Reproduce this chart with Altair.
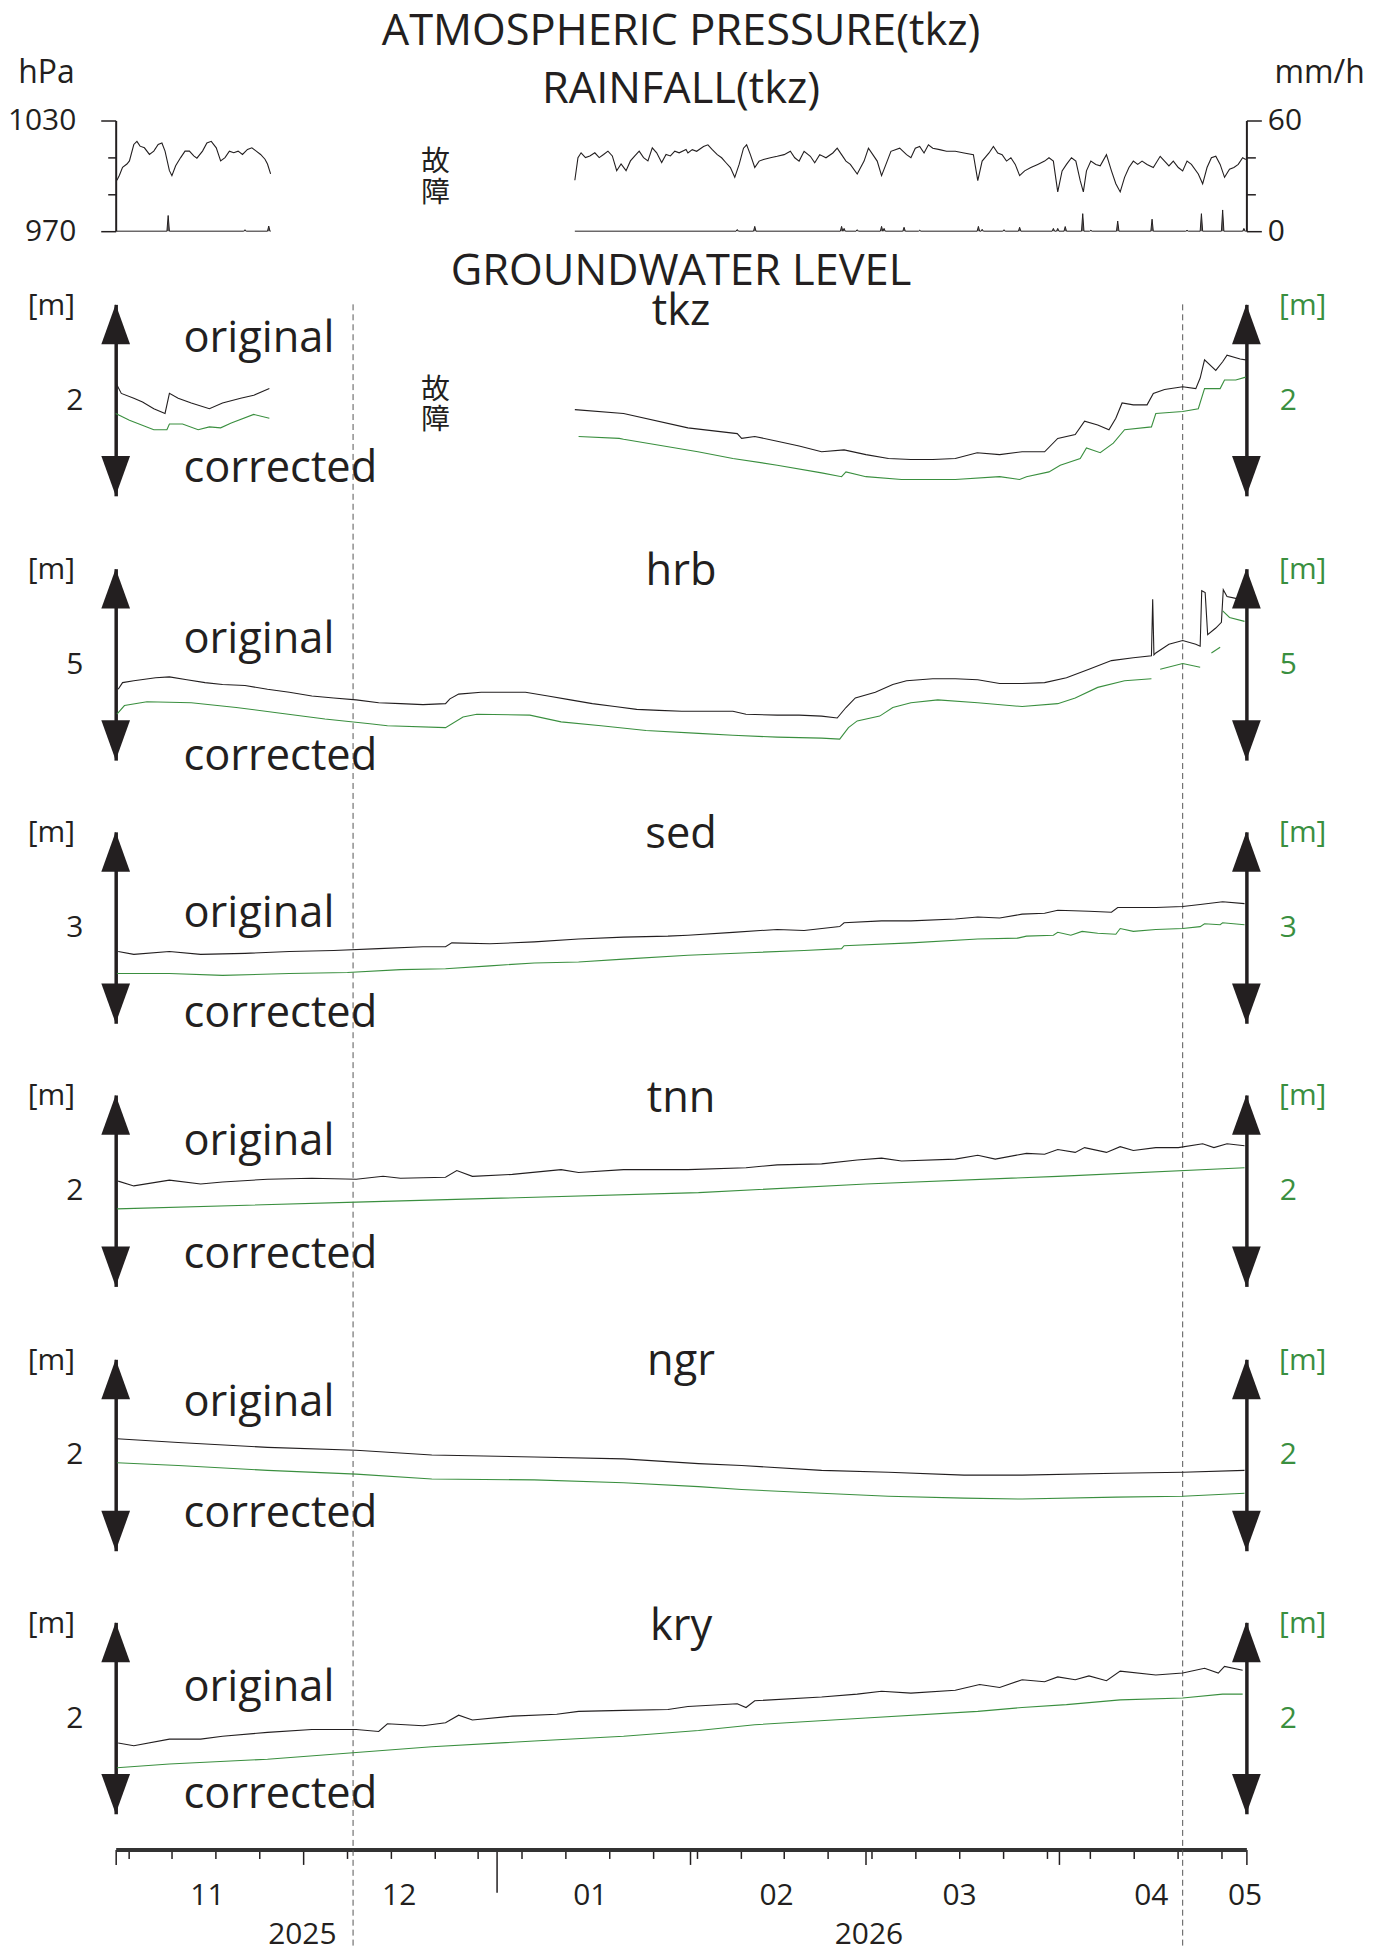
import altair as alt
import pandas as pd

FONT = "Open Sans"
CJK = "Noto Sans CJK JP"
BLACK = "#231f20"
GREEN = "#3a8f3f"
GRAY = "#555555"

W = 1134
H_P = 111                  # pressure panel height
H_G = 192                  # groundwater panel height
TOPS = [184.4, 449.5, 713.4, 977.3, 1242.4, 1506.2]   # panel tops (px, from pressure top)
HEIGHT = 1698
DAY_MAX = 181              # day 0 = 2025-11-01, day 181 = 2026-05-01
BIG = 43.5
SMALL = 30

# ---------------- x axis definitions ----------------
MONTH_STARTS = [0, 30, 61, 92, 120, 151, 181]
YEAR_START = 61
MONDAYS = [2, 9, 16, 23, 30, 37, 44, 51, 58, 65, 72, 79, 86, 93, 100, 107, 114,
           121, 128, 135, 142, 149, 156, 163, 170, 177]
MONTH_LABEL_POS = [14.6, 45.3, 75.9, 105.7, 135.01, 165.7, 180.7]
MONTH_LABELS = ["11", "12", "01", "02", "03", "04", "05"]
YEAR_LABEL_POS = [29.8, 120.5]
YEAR_LABELS = ["2025", "2026"]
DASHED_DAYS = [38.0, 170.8]

# ---------------- atmospheric pressure (hPa) ----------------
PRESS_DAY_1 = [0.2, 0.6, 1.1, 1.8, 2.2, 2.9, 3.4, 3.9, 4.6, 5.4, 6.1, 6.8, 7.4, 7.9, 8.6, 9.0, 9.6,
               10.4, 11.1, 11.8, 12.5, 13.0, 13.9, 14.6, 15.3, 16.1, 16.8, 17.5, 18.2, 18.9, 19.6,
               20.3, 21.1, 21.8, 22.5, 23.2, 23.9, 24.3, 24.8]
PRESS_VAL_1 = [997.6, 1000.3, 1004.6, 1006.4, 1008.1, 1017.0, 1018.7, 1016.1, 1015.2, 1011.6, 1013.4,
               1017.0, 1017.8, 1013.4, 1002.8, 1000.1, 1005.5, 1009.9, 1013.4, 1013.4, 1010.8, 1009.6,
               1013.4, 1017.8, 1018.7, 1015.2, 1008.1, 1009.9, 1013.4, 1012.5, 1013.4, 1011.6, 1014.3,
               1015.2, 1013.4, 1011.6, 1009.0, 1006.4, 1001.1]
PRESS_DAY_2 = [73.5, 74.0, 74.5, 75.2, 75.9, 76.7, 77.4, 78.1, 78.8, 79.5, 80.2, 80.9, 81.7, 82.4, 83.1,
               83.8, 84.5, 85.2, 85.9, 86.6, 87.4, 88.1, 88.8, 89.5, 90.2, 91.3, 91.6, 92.3, 93.0, 94.1,
               94.8, 95.5, 96.3, 97.0, 97.7, 98.4, 99.1, 99.8, 100.5, 101.0, 101.6, 102.3, 103.0, 103.7,
               104.8, 105.9, 107.0, 108.0, 108.7, 109.4, 110.2, 111.2, 111.9, 112.7, 113.7, 114.8, 115.5,
               116.2, 116.9, 117.6, 118.7, 119.8, 120.5, 121.2, 121.9, 122.6, 123.3, 124.1, 124.8, 125.5,
               126.6, 127.3, 128.0, 128.7, 129.4, 130.1, 130.8, 131.9, 133.0, 134.4, 135.8, 137.3, 138.0,
               138.7, 139.8, 140.5, 141.2, 141.9, 142.6, 143.3, 144.0, 144.7, 145.5, 146.5, 147.6, 148.7,
               149.4, 150.1, 150.8, 151.5, 152.2, 153.0, 153.7, 154.4, 154.9, 155.4, 156.1, 156.9, 157.6,
               158.6, 159.4, 160.1, 160.8, 161.5, 162.2, 162.9, 163.6, 164.3, 165.1, 166.1, 167.2, 167.9,
               168.6, 169.3, 170.1, 170.8, 171.5, 172.2, 173.3, 174.0, 174.7, 175.4, 176.1, 176.8, 177.5,
               178.3, 179.0, 179.7, 180.4, 180.9]
PRESS_VAL_2 = [997.6, 1009.9, 1012.5, 1009.9, 1010.8, 1012.5, 1009.9, 1011.6, 1013.4, 1010.8, 1002.8,
               1006.4, 1002.8, 1008.1, 1010.8, 1013.4, 1009.9, 1008.1, 1015.2, 1012.5, 1007.2, 1011.6,
               1010.8, 1013.4, 1012.5, 1014.3, 1012.4, 1014.2, 1013.3, 1015.9, 1016.8, 1014.2, 1011.5,
               1009.8, 1007.1, 1004.5, 999.2, 1006.2, 1015.0, 1016.8, 1011.5, 1004.5, 1008.0, 1008.9,
               1009.8, 1010.6, 1011.5, 1013.3, 1009.8, 1008.0, 1013.3, 1010.6, 1007.1, 1011.5, 1009.8,
               1012.4, 1015.0, 1011.5, 1008.0, 1006.2, 1001.0, 1008.0, 1015.0, 1011.5, 1008.0, 1000.1,
               1006.2, 1013.3, 1014.2, 1015.0, 1011.5, 1009.8, 1015.0, 1015.9, 1012.4, 1016.8, 1015.0,
               1014.2, 1013.3, 1013.3, 1012.4, 1011.5, 997.4, 1008.0, 1012.4, 1015.9, 1012.4, 1011.5,
               1008.0, 1009.8, 1006.2, 1000.1, 1002.7, 1004.5, 1006.2, 1008.0, 1009.8, 1008.0, 991.3,
               1002.7, 1006.2, 1009.8, 1008.0, 997.4, 991.3, 1002.7, 1008.0, 1006.2, 1005.4, 1011.5,
               1002.7, 995.7, 991.3, 999.2, 1004.5, 1008.0, 1006.2, 1008.0, 1006.2, 1004.5, 1010.6,
               1008.0, 1005.4, 1008.0, 1004.5, 1002.7, 1008.0, 1006.2, 1001.0, 995.7, 1004.5, 1009.8,
               1010.6, 1006.2, 999.2, 1003.6, 1004.5, 1006.2, 1009.8, 1008.9]

# ---------------- rainfall (mm/h) ----------------
RAIN_SEGMENTS = [(0.2, 24.8), (73.5, 180.9)]
RAIN_DAYS = [8.4, 20.7, 24.5, 99.5, 102.3, 116.2, 116.6, 118.7, 122.6, 123.0, 126.2, 128.7, 138.1, 138.7,
             142.2, 144.7, 150.1, 150.8, 152.0, 154.8, 156.1, 160.4, 165.9, 171.5, 173.8, 177.2, 180.6]
RAIN_MMH = [8.5, 0.8, 2.8, 0.9, 2.6, 2.6, 1.5, 0.8, 2.6, 1.5, 2.1, 0.5, 2.6, 1.0,
            0.8, 2.1, 1.5, 1.5, 2.5, 9.5, 0.5, 5.5, 6.5, 0.5, 9.5, 11.5, 1.5]

# ---------------- groundwater levels (m) ----------------
TKZ_O_DAY = [[0.1, 0.9, 2.9, 4.3, 6.1, 7.9, 8.6, 10.0, 12.1, 15.0, 17.1, 20.0, 22.1, 24.6],
             [73.5, 81.3, 91.6, 99.5, 100.2, 102.3, 105.9, 109.4, 113.0, 116.6, 120.1, 123.7, 127.3,
              130.8, 134.4, 137.9, 141.5, 145.1, 148.7, 150.8, 153.6, 155.1, 157.2, 159.0, 160.1, 161.1,
              162.9, 165.1, 166.1, 167.9, 170.8, 172.9, 173.6, 174.3, 176.1, 177.2, 177.9, 180.0, 180.9]]
TKZ_O_VAL = [[2.17, 2.07, 2.02, 1.98, 1.91, 1.86, 2.07, 2.02, 1.97, 1.91, 1.97, 2.02, 2.05, 2.12],
             [1.90, 1.86, 1.71, 1.65, 1.60, 1.62, 1.57, 1.52, 1.46, 1.48, 1.43, 1.39, 1.38, 1.38, 1.39,
              1.45, 1.43, 1.46, 1.46, 1.60, 1.64, 1.78, 1.74, 1.69, 1.81, 1.97, 1.95, 1.95, 2.07, 2.11,
              2.14, 2.12, 2.23, 2.42, 2.31, 2.40, 2.47, 2.43, 2.42]]
TKZ_C_DAY = [[0.0, 2.2, 6.1, 8.2, 8.6, 10.7, 13.2, 15.0, 16.8, 18.5, 22.1, 24.6],
             [74.1, 80.6, 81.3, 93.2, 98.8, 105.9, 113.0, 116.2, 116.9, 120.1, 125.8, 134.4, 141.5, 144.7,
              145.8, 149.4, 151.2, 154.4, 155.4, 157.6, 159.7, 161.5, 165.8, 166.5, 170.8, 173.3, 174.3,
              176.8, 177.5, 179.3, 180.9]]
TKZ_C_VAL = [[1.86, 1.79, 1.69, 1.69, 1.75, 1.75, 1.69, 1.72, 1.71, 1.76, 1.85, 1.81],
             [1.62, 1.60, 1.59, 1.46, 1.39, 1.32, 1.24, 1.20, 1.25, 1.20, 1.17, 1.17, 1.20, 1.17, 1.20,
              1.25, 1.32, 1.39, 1.50, 1.45, 1.55, 1.69, 1.72, 1.86, 1.88, 1.91, 2.12, 2.12, 2.21, 2.21, 2.24]]

HRB_O_DAY = [[0.4, 1.1, 2.9, 6.4, 8.6, 11.4, 14.3, 17.1, 20.7, 24.3, 27.8, 31.4, 34.9, 38.5, 42.1, 45.6,
              49.2, 52.8, 53.5, 54.9, 58.5, 62.1, 65.6, 69.2, 72.8, 76.3, 79.9, 83.4, 87.0, 90.6, 95.2,
              98.8, 100.9, 105.9, 109.4, 113.0, 115.5, 116.9, 118.4, 121.6, 124.4, 126.6, 130.8, 134.4,
              138.0, 141.5, 145.1, 148.7, 152.2, 155.8, 159.4, 162.9, 165.8, 166.0, 166.2, 166.5, 168.6,
              170.8, 172.9, 173.6, 173.85, 174.4, 174.8, 176.1, 177.0, 177.3, 177.9, 179.3, 180.7]]
HRB_O_VAL = [[4.74, 4.81, 4.83, 4.86, 4.87, 4.84, 4.81, 4.79, 4.78, 4.74, 4.71, 4.67, 4.65, 4.63, 4.60,
              4.59, 4.58, 4.59, 4.64, 4.69, 4.71, 4.71, 4.71, 4.67, 4.63, 4.59, 4.56, 4.53, 4.52, 4.51,
              4.51, 4.51, 4.48, 4.47, 4.47, 4.46, 4.44, 4.55, 4.65, 4.71, 4.79, 4.83, 4.85, 4.85, 4.84,
              4.80, 4.80, 4.81, 4.86, 4.95, 5.04, 5.07, 5.09, 5.68, 5.10, 5.12, 5.21, 5.25, 5.21, 5.19,
              5.77, 5.75, 5.31, 5.38, 5.44, 5.78, 5.71, 5.69, 5.68]]
HRB_C_DAY = [[0.2, 1.4, 5.0, 12.1, 19.3, 26.4, 33.5, 40.7, 43.5, 52.8, 55.6, 57.8, 66.3, 71.3, 77.7, 84.9,
              93.3, 98.8, 105.9, 113.0, 115.9, 117.3, 118.7, 122.3, 124.4, 127.3, 131.6, 138.0, 145.1,
              150.8, 153.6, 157.2, 161.5, 165.8],
             [167.2, 170.8, 173.6], [175.4, 176.8], [177.2, 178.3, 180.7]]
HRB_C_VAL = [[4.48, 4.57, 4.61, 4.60, 4.55, 4.49, 4.43, 4.38, 4.36, 4.34, 4.45, 4.48, 4.47, 4.40, 4.36,
              4.31, 4.28, 4.26, 4.24, 4.23, 4.22, 4.34, 4.41, 4.46, 4.55, 4.60, 4.63, 4.60, 4.56, 4.59,
              4.65, 4.76, 4.83, 4.85],
             [4.95, 5.01, 4.97], [5.12, 5.18], [5.56, 5.49, 5.45]]

SED_O_DAY = [[0.4, 2.9, 8.6, 13.6, 20.7, 27.8, 34.9, 42.1, 49.2, 52.8, 53.8, 59.9, 67.0, 74.1, 81.3, 88.4,
              91.6, 98.8, 105.9, 110.2, 115.9, 116.6, 122.6, 127.3, 134.4, 138.0, 141.5, 145.1, 148.7,
              150.8, 155.8, 159.4, 160.4, 166.5, 170.8, 173.6, 177.2, 180.7]]
SED_O_VAL = [[2.75, 2.72, 2.75, 2.72, 2.73, 2.75, 2.76, 2.78, 2.80, 2.80, 2.84, 2.83, 2.85, 2.88, 2.90,
              2.91, 2.92, 2.95, 2.98, 2.97, 3.01, 3.05, 3.07, 3.07, 3.09, 3.11, 3.10, 3.14, 3.15, 3.18,
              3.17, 3.16, 3.21, 3.21, 3.22, 3.24, 3.27, 3.25]]
SED_C_DAY = [[0.2, 8.6, 17.1, 27.8, 37.1, 45.6, 52.8, 59.9, 67.0, 74.1, 81.3, 91.6, 102.3, 110.2, 116.2,
              116.6, 127.3, 138.0, 144.4, 145.8, 150.1, 150.8, 152.9, 154.7, 157.2, 160.1, 160.8, 162.9,
              166.5, 170.8, 173.6, 174.3, 176.8, 177.2, 180.7]]
SED_C_VAL = [[2.52, 2.52, 2.50, 2.52, 2.53, 2.56, 2.57, 2.60, 2.63, 2.64, 2.67, 2.71, 2.74, 2.76, 2.78,
              2.81, 2.84, 2.88, 2.89, 2.91, 2.92, 2.95, 2.92, 2.96, 2.94, 2.93, 2.99, 2.96, 2.98, 2.99,
              3.01, 3.04, 3.03, 3.05, 3.03]]

TNN_O_DAY = [[0.4, 2.9, 8.6, 13.6, 17.1, 24.3, 31.4, 38.5, 42.8, 45.6, 52.8, 54.6, 57.1, 63.5, 71.3, 74.1,
              81.3, 88.4, 91.6, 100.9, 105.9, 113.0, 118.7, 122.6, 125.8, 134.4, 138.0, 140.8, 145.8,
              148.7, 150.8, 153.6, 155.1, 158.6, 160.8, 162.9, 166.5, 170.1, 174.0, 175.8, 177.9, 180.7]]
TNN_O_VAL = [[2.10, 2.05, 2.11, 2.07, 2.09, 2.12, 2.13, 2.12, 2.15, 2.13, 2.14, 2.21, 2.15, 2.17, 2.22,
              2.19, 2.22, 2.22, 2.22, 2.24, 2.27, 2.28, 2.32, 2.34, 2.31, 2.33, 2.37, 2.33, 2.39, 2.38,
              2.43, 2.40, 2.45, 2.40, 2.46, 2.42, 2.45, 2.45, 2.49, 2.45, 2.49, 2.47]]
TNN_C_DAY = [[0.2, 38.5, 93.3, 120.1, 150.8, 180.7]]
TNN_C_VAL = [[1.81, 1.88, 1.98, 2.07, 2.15, 2.24]]

NGR_O_DAY = [[0.2, 10.0, 24.3, 38.5, 50.6, 67.0, 81.3, 93.3, 100.2, 113.0, 123.7, 135.8, 145.1, 160.1,
              170.8, 180.7]]
NGR_O_VAL = [[2.17, 2.13, 2.08, 2.05, 2.00, 1.98, 1.96, 1.91, 1.89, 1.84, 1.82, 1.79, 1.79, 1.81, 1.82, 1.84]]
NGR_C_DAY = NGR_O_DAY
NGR_C_VAL = [[1.92, 1.89, 1.84, 1.80, 1.75, 1.74, 1.71, 1.67, 1.64, 1.60, 1.57, 1.55, 1.54, 1.56, 1.57, 1.60]]

KRY_O_DAY = [[0.4, 2.9, 8.6, 13.6, 17.1, 24.3, 31.4, 38.5, 42.1, 43.5, 49.2, 52.8, 54.9, 57.1, 63.5, 70.6,
              74.1, 81.3, 88.4, 91.6, 99.5, 100.9, 102.3, 113.0, 118.7, 122.6, 127.3, 134.4, 138.3, 141.5,
              145.1, 148.7, 150.8, 153.6, 155.8, 158.6, 160.8, 166.5, 170.8, 174.3, 176.5, 177.5, 180.4]]
KRY_O_VAL = [[1.74, 1.71, 1.78, 1.78, 1.81, 1.85, 1.88, 1.88, 1.86, 1.94, 1.92, 1.95, 2.03, 1.98, 2.02,
              2.04, 2.07, 2.08, 2.09, 2.12, 2.15, 2.11, 2.18, 2.22, 2.25, 2.28, 2.26, 2.29, 2.35, 2.32,
              2.40, 2.38, 2.43, 2.40, 2.44, 2.39, 2.49, 2.45, 2.47, 2.52, 2.47, 2.54, 2.50]]
KRY_C_DAY = [[0.2, 8.6, 24.3, 38.5, 50.6, 67.0, 81.3, 93.3, 102.3, 120.1, 138.0, 145.1, 152.2, 160.8,
              170.8, 177.2, 180.4]]
KRY_C_VAL = [[1.48, 1.52, 1.57, 1.64, 1.70, 1.76, 1.81, 1.87, 1.93, 2.00, 2.07, 2.11, 2.14, 2.19, 2.21,
              2.25, 2.25]]

# panel: name, centre tick, original, corrected, "original"/"corrected" label anchors (m), title dy
PANELS = [
    ("tkz", 2, TKZ_O_DAY, TKZ_O_VAL, TKZ_C_DAY, TKZ_C_VAL, 2.64, 1.28, 8),
    ("hrb", 5, HRB_O_DAY, HRB_O_VAL, HRB_C_DAY, HRB_C_VAL, 5.25, 4.03, 3),
    ("sed", 3, SED_O_DAY, SED_O_VAL, SED_C_DAY, SED_C_VAL, 3.14, 2.10, 3),
    ("tnn", 2, TNN_O_DAY, TNN_O_VAL, TNN_C_DAY, TNN_C_VAL, 2.51, 1.33, 4),
    ("ngr", 2, NGR_O_DAY, NGR_O_VAL, NGR_C_DAY, NGR_C_VAL, 2.54, 1.38, 3),
    ("kry", 2, KRY_O_DAY, KRY_O_VAL, KRY_C_DAY, KRY_C_VAL, 2.31, 1.20, 5),
]
LABEL_DAY = 10.85
TITLE_DAY = 90.5
FAULT_DAY = 51.2
FAULT_PRESS = 1007.5
FAULT_TKZ = 2.11

UP = "M0,0L0.36,1L-0.36,1Z"
DOWN = "M0,0L0.36,-1L-0.36,-1Z"
HEAD = 6400


def seg_frame(days, vals):
    rows = []
    for si, (ds, vs) in enumerate(zip(days, vals)):
        for d, v in zip(ds, vs):
            rows.append({"day": d, "v": v, "seg": si})
    return pd.DataFrame(rows)


tick_values = sorted(set(MONDAYS + MONTH_STARTS)) + MONTH_LABEL_POS + YEAR_LABEL_POS
label_expr = "".join(f"datum.value == {p} ? '{l}' : "
                     for p, l in zip(MONTH_LABEL_POS + YEAR_LABEL_POS, MONTH_LABELS + YEAR_LABELS)) + "''"
month_test = " || ".join(f"datum.value == {m}" for m in MONTH_STARTS)
XAXIS = alt.Axis(
    orient="bottom", values=tick_values, labelExpr=label_expr,
    tickSize={"condition": [{"test": f"datum.value == {YEAR_START}", "value": 43},
                            {"test": month_test, "value": 15},
                            {"test": "datum.value % 1 != 0", "value": 0}], "value": 9},
    labelPadding={"condition": {"test": " || ".join(f"datum.value == {p}" for p in YEAR_LABEL_POS),
                                "value": 70}, "value": 31},
    tickWidth=1.5, tickColor=BLACK, domainColor="#333333", domainWidth=4,
    labelFontSize=SMALL, labelColor=BLACK, labelBaseline="top", labelAlign="center",
    labelOverlap=False, labelFlush=False, labelBound=False, offset=36, grid=False, title=None)

XS = alt.Scale(domain=[0, DAY_MAX], nice=False, zero=False)
XN = alt.X("day:Q", scale=XS, axis=XAXIS, title=None)

layers = []

# dashed reference lines spanning all groundwater panels
layers.append(alt.Chart(pd.DataFrame({"day": DASHED_DAYS})).mark_rule(
    color=GRAY, strokeDash=[6, 4], strokeWidth=1).encode(
    x=XN, y=alt.value(TOPS[0]), y2=alt.value(HEIGHT + 136)))

# ---------------- pressure / rainfall panel ----------------
press_df = seg_frame([PRESS_DAY_1, PRESS_DAY_2], [PRESS_VAL_1, PRESS_VAL_2])
rain_rows = []
for si, (s, e) in enumerate(RAIN_SEGMENTS):
    rain_rows.append({"day": s, "r": 0.0, "seg": si})
    for d, r in zip(RAIN_DAYS, RAIN_MMH):
        if s < d < e:
            rain_rows += [{"day": d - 0.2, "r": 0.0, "seg": si}, {"day": d, "r": r, "seg": si},
                          {"day": d + 0.2, "r": 0.0, "seg": si}]
    rain_rows.append({"day": e, "r": 0.0, "seg": si})
rain_df = pd.DataFrame(rain_rows)


def p_scale():
    return alt.Scale(domain=[970, 1030], range=[H_P, 0], nice=False, zero=False)


p_axis = alt.Axis(orient="left", values=[970, 990, 1010, 1030], format="d",
                  tickSize={"condition": {"test": "datum.value == 970 || datum.value == 1030", "value": 15},
                            "value": 8},
                  labelExpr="(datum.value == 970 || datum.value == 1030) ? datum.label : ''",
                  labelPadding=25, labelFontSize=SMALL, domainWidth=2, domainColor=BLACK, tickWidth=1.5,
                  tickColor=BLACK, title="hPa", titleAngle=0, titleX=-70, titleY=-48, titleAlign="center",
                  titleBaseline="middle", titleFontSize=32, grid=False)
r_axis = alt.Axis(orient="right", values=[0, 20, 40, 60], format="d",
                  tickSize={"condition": {"test": "datum.value == 0 || datum.value == 60", "value": 15},
                            "value": 9},
                  labelExpr="(datum.value == 0 || datum.value == 60) ? datum.label : ''",
                  labelPadding=6, labelFontSize=SMALL, domainWidth=2, domainColor=BLACK, tickWidth=1.5,
                  tickColor=BLACK, title="mm/h", titleAngle=0, titleX=73, titleY=-48, titleAlign="center",
                  titleBaseline="middle", titleFontSize=32, grid=False)

layers.append(alt.Chart(press_df).mark_line(color=BLACK, strokeWidth=1.1).encode(
    x=XN, y=alt.Y("v:Q", scale=p_scale(), axis=p_axis, title="hPa"), detail="seg:N"))
layers.append(alt.Chart(rain_df).mark_area(color=BLACK, line={"color": BLACK, "strokeWidth": 1}).encode(
    x=XN, y=alt.Y("r:Q", scale=alt.Scale(domain=[0, 60], range=[H_P, 0], nice=False, zero=False),
                  axis=r_axis, title="mm/h", stack=None), detail="seg:N"))
layers.append(alt.Chart(pd.DataFrame({"day": [FAULT_DAY], "v": [FAULT_PRESS], "txt": ["故\n障"]})).mark_text(
    align="center", baseline="middle", font=CJK, fontSize=29, lineHeight=31, lineBreak="\n",
    color=BLACK).encode(x=XN, y=alt.Y("v:Q", scale=p_scale(), axis=None), text="txt:N"))
for txt, dy in [("ATMOSPHERIC PRESSURE(tkz)", -88.5), ("RAINFALL(tkz)", -31)]:
    layers.append(alt.Chart(pd.DataFrame({"day": [TITLE_DAY], "v": [1030], "txt": [txt]})).mark_text(
        align="center", baseline="middle", font=FONT, fontSize=BIG, color=BLACK, dy=dy).encode(
        x=XN, y=alt.Y("v:Q", scale=p_scale(), axis=None), text="txt:N"))


# ---------------- groundwater panels ----------------
def gw_layers(top, name, c, od, ov, cd, cv, lab_o, lab_c, title_dy, first=False):
    def ys():
        return alt.Scale(domain=[c - 1, c + 1], range=[top + H_G, top], nice=False, zero=False)

    lax = alt.Axis(orient="left", values=[c], format="d", ticks=False, labelFontSize=SMALL,
                   labelPadding=33, domainWidth=3.5, domainColor=BLACK, title="[m]", titleAngle=0,
                   titleX=-65, titleY=top + 1, titleAlign="center", titleBaseline="middle",
                   titleFontSize=SMALL, grid=False)
    rax = alt.Axis(orient="right", values=[c], format="d", ticks=False, labelFontSize=SMALL,
                   labelPadding=33, labelColor=GREEN, domainWidth=3.5, domainColor=BLACK,
                   title="[m]", titleColor=GREEN, titleAngle=0, titleX=56, titleY=top + 1,
                   titleAlign="center", titleBaseline="middle", titleFontSize=SMALL, grid=False)
    out = []
    out.append(alt.Chart(seg_frame(od, ov)).mark_line(color=BLACK, strokeWidth=1.1).encode(
        x=XN, y=alt.Y("v:Q", scale=ys(), axis=lax, title="[m]"), detail="seg:N"))
    out.append(alt.Chart(seg_frame(cd, cv)).mark_line(color=GREEN, strokeWidth=1.1).encode(
        x=XN, y=alt.Y("v:Q", scale=ys(), axis=rax, title="[m]"), detail="seg:N"))
    out.append(alt.Chart(pd.DataFrame({"day": [0, DAY_MAX], "v": [c + 1, c + 1]})).mark_point(
        shape=UP, size=HEAD, filled=True, color=BLACK, opacity=1, strokeWidth=0).encode(
        x=XN, y=alt.Y("v:Q", scale=ys(), axis=None)))
    out.append(alt.Chart(pd.DataFrame({"day": [0, DAY_MAX], "v": [c - 1, c - 1]})).mark_point(
        shape=DOWN, size=HEAD, filled=True, color=BLACK, opacity=1, strokeWidth=0).encode(
        x=XN, y=alt.Y("v:Q", scale=ys(), axis=None)))
    out.append(alt.Chart(pd.DataFrame({"day": [LABEL_DAY, LABEL_DAY], "v": [lab_o, lab_c],
                                       "txt": ["original", "corrected"]})).mark_text(
        align="left", baseline="middle", font=FONT, fontSize=BIG, color=BLACK).encode(
        x=XN, y=alt.Y("v:Q", scale=ys(), axis=None), text="txt:N"))
    out.append(alt.Chart(pd.DataFrame({"day": [TITLE_DAY], "v": [c + 1], "txt": [name]})).mark_text(
        align="center", baseline="middle", font=FONT, fontSize=BIG, color=BLACK, dy=title_dy).encode(
        x=XN, y=alt.Y("v:Q", scale=ys(), axis=None), text="txt:N"))
    if first:
        out.append(alt.Chart(pd.DataFrame({"day": [TITLE_DAY], "v": [c + 1],
                                           "txt": ["GROUNDWATER LEVEL"]})).mark_text(
            align="center", baseline="middle", font=FONT, fontSize=BIG, color=BLACK, dy=-32).encode(
            x=XN, y=alt.Y("v:Q", scale=ys(), axis=None), text="txt:N"))
        out.append(alt.Chart(pd.DataFrame({"day": [FAULT_DAY], "v": [FAULT_TKZ],
                                           "txt": ["故\n障"]})).mark_text(
            align="center", baseline="middle", font=CJK, fontSize=29, lineHeight=31,
            lineBreak="\n", color=BLACK).encode(
            x=XN, y=alt.Y("v:Q", scale=ys(), axis=None), text="txt:N"))
    return out


for i, (name, c, od, ov, cd, cv, lo, lc, tdy) in enumerate(PANELS):
    layers += gw_layers(TOPS[i], name, c, od, ov, cd, cv, lo, lc, tdy, first=(i == 0))

chart = alt.layer(*layers).resolve_scale(y="independent").properties(
    width=W, height=HEIGHT,
    autosize=alt.AutoSizeParams(type="none"),
    padding={"left": 108, "top": 110, "right": 135, "bottom": 136},
).configure_view(stroke=None).configure_axis(
    labelFont=FONT, titleFont=FONT, titleFontWeight="normal", labelColor=BLACK, titleColor=BLACK, grid=False
).configure_text(font=FONT)

chart.save("out.html", embed_options={"renderer": "svg", "actions": False})
